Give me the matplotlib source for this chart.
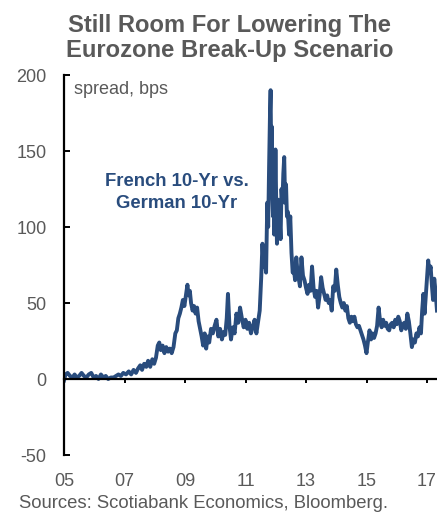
import matplotlib
matplotlib.use("Agg")
import matplotlib.pyplot as plt

plt.rcParams['font.family'] = ['Liberation Sans', 'DejaVu Sans']
plt.rcParams['axes.unicode_minus'] = False

# Spread data (bps): fractional year -> value
years = [
    2005.00, 2005.05, 2005.12, 2005.20, 2005.28, 2005.35, 2005.42, 2005.50, 2005.58, 2005.66,
    2005.74, 2005.82, 2005.90, 2005.98, 2006.06, 2006.14, 2006.22, 2006.30, 2006.38, 2006.46,
    2006.55, 2006.64, 2006.72, 2006.80, 2006.88, 2006.96, 2007.05, 2007.14, 2007.22, 2007.30,
    2007.38, 2007.45, 2007.52, 2007.58, 2007.65, 2007.72, 2007.78, 2007.85, 2007.92, 2007.98,
    2008.04, 2008.10, 2008.15, 2008.20, 2008.26, 2008.32, 2008.38, 2008.44, 2008.50, 2008.56,
    2008.62, 2008.68, 2008.73, 2008.78, 2008.83, 2008.88, 2008.93, 2008.98, 2009.03, 2009.08,
    2009.12, 2009.16, 2009.20, 2009.25, 2009.30, 2009.35, 2009.40, 2009.45, 2009.50, 2009.55,
    2009.60, 2009.65, 2009.70, 2009.75, 2009.80, 2009.86, 2009.92, 2009.98, 2010.04, 2010.10,
    2010.16, 2010.22, 2010.28, 2010.33, 2010.38, 2010.42, 2010.47, 2010.52, 2010.58, 2010.64,
    2010.70, 2010.76, 2010.82, 2010.88, 2010.94, 2011.00, 2011.06, 2011.12, 2011.18, 2011.24,
    2011.30, 2011.36, 2011.42, 2011.47, 2011.52, 2011.56, 2011.60, 2011.64, 2011.68, 2011.72,
    2011.75, 2011.78, 2011.81, 2011.83, 2011.85, 2011.87, 2011.89, 2011.91, 2011.93, 2011.95,
    2011.97, 2011.99, 2012.02, 2012.04, 2012.07, 2012.10, 2012.13, 2012.16, 2012.19, 2012.22,
    2012.25, 2012.28, 2012.31, 2012.34, 2012.37, 2012.40, 2012.44, 2012.48, 2012.52, 2012.56,
    2012.60, 2012.64, 2012.68, 2012.72, 2012.76, 2012.80, 2012.85, 2012.90, 2012.95, 2013.00,
    2013.05, 2013.10, 2013.15, 2013.20, 2013.25, 2013.30, 2013.35, 2013.40, 2013.45, 2013.50,
    2013.55, 2013.60, 2013.65, 2013.70, 2013.75, 2013.80, 2013.85, 2013.90, 2013.95, 2014.00,
    2014.05, 2014.10, 2014.15, 2014.20, 2014.25, 2014.30, 2014.35, 2014.40, 2014.45, 2014.50,
    2014.55, 2014.60, 2014.65, 2014.70, 2014.75, 2014.80, 2014.85, 2014.90, 2014.95, 2015.00,
    2015.05, 2015.10, 2015.15, 2015.20, 2015.25, 2015.30, 2015.35, 2015.40, 2015.45, 2015.50,
    2015.55, 2015.60, 2015.65, 2015.70, 2015.75, 2015.80, 2015.85, 2015.90, 2015.95, 2016.00,
    2016.05, 2016.10, 2016.15, 2016.20, 2016.25, 2016.30, 2016.35, 2016.40, 2016.45, 2016.50,
    2016.55, 2016.60, 2016.65, 2016.70, 2016.75, 2016.80, 2016.84, 2016.88, 2016.92, 2016.96,
    2017.00, 2017.04, 2017.08, 2017.12, 2017.16, 2017.20, 2017.24, 2017.28, 2017.33,
]
spread = [
    -1, 3, 4, 2, 1, 3, 1, 2, 4, 2,
    1, 3, 4, 1, 2, 0, 3, 1, 2, 0,
    1, 1, 2, 3, 2, 4, 3, 5, 3, 6,
    4, 7, 9, 6, 10, 8, 12, 8, 13, 10,
    14, 22, 24, 19, 22, 17, 21, 18, 20, 17,
    21, 30, 32, 40, 43, 47, 52, 48, 55, 62,
    55, 58, 50, 45, 48, 43, 47, 38, 33, 28,
    22, 30, 20, 28, 24, 33, 30, 35, 39, 28,
    33, 26, 31, 29, 40, 56, 35, 26, 34, 30,
    43, 37, 47, 40, 34, 39, 33, 37, 30, 34,
    39, 30, 38, 45, 67, 89, 74, 78, 70, 116,
    100, 140, 175, 190, 144, 166, 120, 107, 130, 95,
    120, 151, 110, 89, 118, 96, 105, 92, 125, 116,
    135, 146, 116, 128, 107, 110, 95, 107, 83, 70,
    72, 65, 80, 70, 66, 61, 80, 68, 65, 60,
    56, 62, 58, 74, 60, 54, 58, 47, 55, 67,
    60, 56, 52, 55, 50, 52, 45, 61, 58, 72,
    62, 54, 50, 47, 50, 45, 48, 40, 37, 41,
    38, 41, 36, 34, 35, 32, 29, 26, 22, 17,
    25, 32, 26, 30, 27, 30, 35, 47, 38, 34,
    39, 35, 37, 33, 32, 36, 37, 34, 39, 36,
    41, 38, 32, 36, 37, 33, 43, 38, 30, 21,
    26, 24, 30, 28, 34, 30, 45, 56, 43, 55,
    67, 78, 70, 74, 62, 52, 66, 58, 45,
]

yticks = [-50, 0, 50, 100, 150, 200]
xticks = [2005, 2007, 2009, 2011, 2013, 2015, 2017]
xticklabels = ['05', '07', '09', '11', '13', '15', '17']

gray = '#595959'
blue = '#294C7D'
W, H = 437, 512

fig = plt.figure(figsize=(4.37, 5.12), dpi=100)
ax = fig.add_axes([64/W, 1 - 455/H, 1 - 64/W, (455 - 75)/H])

ax.plot(years, spread, color=blue, lw=2.8, solid_joinstyle='round')

ax.set_xlim(2005, 2005 + (437 - 64) / 30.25)
ax.set_ylim(-50, 200)
ax.set_yticks(yticks)
ax.set_xticks(xticks)
ax.set_xticklabels(xticklabels)

for s in ['top', 'right']:
    ax.spines[s].set_visible(False)
ax.spines['left'].set_linewidth(1.6)
ax.spines['bottom'].set_linewidth(1.6)
ax.spines['bottom'].set_position(('data', 0))

ax.tick_params(axis='y', direction='in', length=4, width=1.4, pad=12.5,
               labelsize=13, labelcolor=gray)
ax.tick_params(axis='x', direction='out', length=3, width=1.4, pad=65,
               labelsize=13, labelcolor=gray)

fig.text(74/W, 1 - 90/H, 'spread, bps', fontsize=13, color=gray,
         va='center', ha='left')
fig.text(177/W, 1 - 186/H, 'French 10-Yr vs.', fontsize=13.3,
         fontweight='bold', color=blue, ha='center', va='baseline')
fig.text(177/W, 1 - 208/H, 'German 10-Yr', fontsize=13.3,
         fontweight='bold', color=blue, ha='center', va='baseline')

fig.text(230/W, 1 - 32/H, 'Still Room For Lowering The',
         fontsize=17.1, fontweight='bold', color=gray, ha='center', va='baseline')
fig.text(230/W, 1 - 57/H, 'Eurozone Break-Up Scenario',
         fontsize=17.1, fontweight='bold', color=gray, ha='center', va='baseline')
fig.text(19/W, 1 - 508/H, 'Sources: Scotiabank Economics, Bloomberg.',
         fontsize=13.3, color=gray, ha='left', va='baseline')

fig.savefig('out.png', dpi=100)
